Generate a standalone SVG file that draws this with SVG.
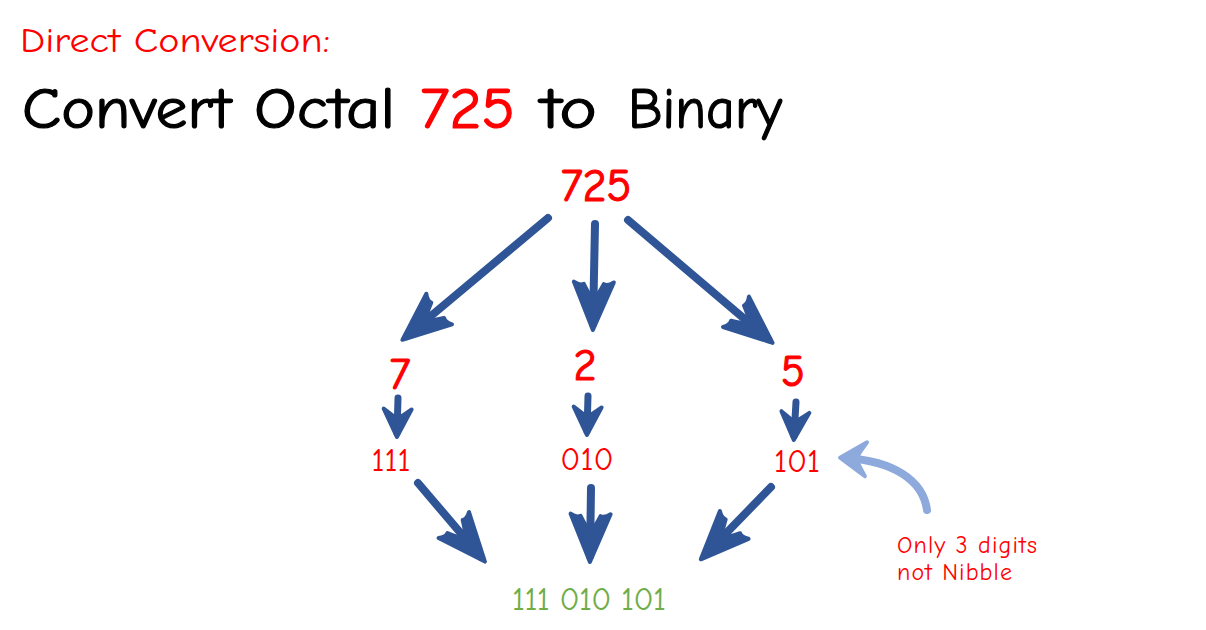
<svg xmlns="http://www.w3.org/2000/svg" width="1206" height="630" viewBox="0 0 1206 630">
  <style>
    text { font-family: "Comic Sans MS", "Comic Neue", "Open Sans", "DejaVu Sans", sans-serif; font-weight: 400; }
    .red { fill: #FF0000; }
    .blk { fill: #000000; }
    .grn { fill: #70AD47; }
    .thick { stroke-width: 1.2; paint-order: stroke; }
    .thick.blk, .thick .blk { stroke: #000000; }
    .thick.red, .thick .red { stroke: #FF0000; }
    .shaft { stroke: #2F5597; stroke-width: 8; stroke-linecap: round; fill: none; }
    .shaft-s { stroke: #2F5597; stroke-width: 7; stroke-linecap: round; fill: none; }
    .note { stroke: #8EA9DB; stroke-width: 8; stroke-linecap: round; fill: none; }
  </style>
  <defs>
    <marker id="headBig" viewBox="-50 -26 58 52" refX="0" refY="0" markerWidth="58" markerHeight="52" markerUnits="userSpaceOnUse" orient="auto">
      <path d="M6,0 L-42,-20 Q-38,-14 -40,-10 Q-30,-5 -24,0 Q-30,5 -40,10 Q-38,14 -42,20 Z" fill="#2F5597" stroke="#2F5597" stroke-width="4" stroke-linejoin="round"/>
    </marker>
    <marker id="headSmall" viewBox="-30 -20 36 40" refX="0" refY="0" markerWidth="36" markerHeight="40" markerUnits="userSpaceOnUse" orient="auto">
      <path d="M4,0 L-24,-14 Q-18,-6 -14,0 Q-18,6 -24,14 Z" fill="#2F5597" stroke="#2F5597" stroke-width="4" stroke-linejoin="round"/>
    </marker>
    <marker id="headNote" viewBox="-36 -24 44 48" refX="0" refY="0" markerWidth="44" markerHeight="48" markerUnits="userSpaceOnUse" orient="auto">
      <path d="M6,0 L-20,-17 Q-14,-8 -10,0 Q-14,8 -20,17 Z" fill="#8EA9DB" stroke="#8EA9DB" stroke-width="4" stroke-linejoin="round"/>
    </marker>
  </defs>

  <g id="heading">
    <text x="20" y="52" font-size="34" textLength="310" lengthAdjust="spacingAndGlyphs" class="red">Direct Conversion:</text>
    <text y="128" font-size="58" class="blk thick"><tspan x="22" textLength="209" lengthAdjust="spacingAndGlyphs">Convert</tspan> <tspan x="254" textLength="141" lengthAdjust="spacingAndGlyphs">Octal</tspan> <tspan x="420" textLength="95" lengthAdjust="spacingAndGlyphs" class="red" stroke="#FF0000">725</tspan> <tspan x="541" textLength="56" lengthAdjust="spacingAndGlyphs">to</tspan> <tspan x="628" textLength="154" lengthAdjust="spacingAndGlyphs">Binary</tspan></text>
  </g>

  <g id="node-725"><text x="596" y="201" font-size="46" text-anchor="middle" class="red thick">725</text></g>
  <g id="node-7"><text x="400" y="389" font-size="44" text-anchor="middle" class="red thick">7</text></g>
  <g id="node-2"><text x="585" y="380" font-size="44" text-anchor="middle" class="red thick">2</text></g>
  <g id="node-5"><text x="793" y="386" font-size="44" text-anchor="middle" class="red thick">5</text></g>
  <g id="node-111"><text x="391" y="471" font-size="33" text-anchor="middle" class="red">111</text></g>
  <g id="node-010"><text x="587" y="470" font-size="33" text-anchor="middle" class="red">010</text></g>
  <g id="node-101"><text x="797" y="472" font-size="33" text-anchor="middle" class="red">101</text></g>
  <g id="node-result"><text x="589" y="610" font-size="33" text-anchor="middle" textLength="154" lengthAdjust="spacing" class="grn">111 010 101</text></g>
  <g id="note">
    <text font-size="24" class="red"><tspan x="897" y="553" textLength="140" lengthAdjust="spacing">Only 3 digits</tspan><tspan x="897" y="580" textLength="115" lengthAdjust="spacing">not Nibble</tspan></text>
  </g>

  <g id="connectors">
    <line class="shaft" x1="548" y1="218" x2="407" y2="336" marker-end="url(#headBig)"/>
    <line class="shaft" x1="595" y1="224" x2="593" y2="324" marker-end="url(#headBig)"/>
    <line class="shaft" x1="628" y1="220" x2="768" y2="339" marker-end="url(#headBig)"/>
    <line class="shaft-s" x1="398" y1="398" x2="397" y2="433" marker-end="url(#headSmall)"/>
    <line class="shaft-s" x1="588" y1="396" x2="587" y2="431" marker-end="url(#headSmall)"/>
    <line class="shaft-s" x1="796" y1="402" x2="794" y2="436" marker-end="url(#headSmall)"/>
    <line class="shaft" x1="418" y1="483" x2="481" y2="557" marker-end="url(#headBig)"/>
    <line class="shaft" x1="591" y1="488" x2="590" y2="556" marker-end="url(#headBig)"/>
    <line class="shaft" x1="771" y1="487" x2="705" y2="555" marker-end="url(#headBig)"/>
    <path class="note" d="M927,510 C923,480 893,461 846,458" marker-end="url(#headNote)"/>
  </g>
</svg>
